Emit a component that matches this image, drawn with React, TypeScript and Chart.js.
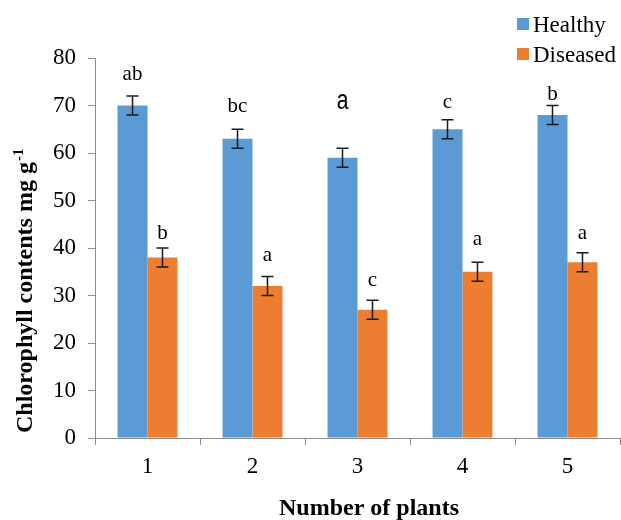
import React, { useEffect, useRef } from "react";
import { Chart, registerables } from "chart.js";

Chart.register(...registerables);

const categories = ["1", "2", "3", "4", "5"];
const healthy = [70, 63, 59, 65, 68];
const diseased = [38, 32, 27, 35, 37];
const healthyErr = [2, 2, 2, 2, 2];
const diseasedErr = [2, 2, 2, 2, 2];
const healthyLetters = ["ab", "bc", "a", "c", "b"];
const diseasedLetters = ["b", "a", "c", "a", "a"];
const healthyLetterLevel = [75.3, 68.6, 69.3, 69.5, 71.2];
const diseasedLetterLevel = [41.9, 37.3, 31.9, 40.6, 41.9];
const healthyLetterSans = [false, false, true, false, false];
const diseasedLetterSans = [false, false, false, false, false];
const yMin = 0;
const yMax = 80;
const yStep = 10;

const BLUE = "#5B9BD5";
const ORANGE = "#ED7D31";
const AXIS = "#8c8c8c";
const SERIF = "'Liberation Serif', 'Times New Roman', serif";
const SANS = "'Liberation Sans', Arial, sans-serif";

const errs = [healthyErr, diseasedErr];
const letters = [healthyLetters, diseasedLetters];
const levels = [healthyLetterLevel, diseasedLetterLevel];
const sansFlags = [healthyLetterSans, diseasedLetterSans];

const overlayPlugin = {
  id: "overlay",
  afterDatasetsDraw(chart: any) {
    const ctx = chart.ctx;
    const yScale = chart.scales.y;
    chart.data.datasets.forEach((ds: any, di: number) => {
      const meta = chart.getDatasetMeta(di);
      meta.data.forEach((el: any, i: number) => {
        const v = ds.data[i];
        const e = errs[di][i];
        const x = el.x;
        const yTop = yScale.getPixelForValue(v + e);
        const yBot = yScale.getPixelForValue(v - e);
        ctx.save();
        ctx.strokeStyle = "#1a1a1a";
        ctx.lineWidth = 1.5;
        ctx.beginPath();
        ctx.moveTo(x, yTop);
        ctx.lineTo(x, yBot);
        ctx.moveTo(x - 6, yTop);
        ctx.lineTo(x + 6, yTop);
        ctx.moveTo(x - 6, yBot);
        ctx.lineTo(x + 6, yBot);
        ctx.stroke();
        // letters
        const ly = yScale.getPixelForValue(levels[di][i]);
        ctx.fillStyle = "#000";
        ctx.textBaseline = "alphabetic";
        ctx.textAlign = "center";
        if (sansFlags[di][i]) {
          ctx.translate(x, ly);
          ctx.scale(0.78, 1);
          ctx.font = `27px ${SANS}`;
          ctx.fillText(letters[di][i], 0, 0);
        } else {
          ctx.font = `21px ${SERIF}`;
          ctx.fillText(letters[di][i], x, ly);
        }
        ctx.restore();
      });
    });
  },
  afterDraw(chart: any) {
    const ctx = chart.ctx;
    ctx.save();
    // legend
    const items = chart.data.datasets.map((d: any) => ({ label: d.label, color: d.backgroundColor }));
    items.forEach((it: any, i: number) => {
      const top = 18 + i * 30;
      ctx.fillStyle = it.color;
      ctx.fillRect(517, top, 12, 12);
      ctx.fillStyle = "#000";
      ctx.font = `23px ${SERIF}`;
      ctx.textAlign = "left";
      ctx.textBaseline = "alphabetic";
      ctx.fillText(it.label, 533, top + 14);
    });
    // x title
    ctx.font = `bold 24px ${SERIF}`;
    ctx.textAlign = "center";
    ctx.fillText("Number of plants", 369, 515);
    // y title
    ctx.translate(32, 433);
    ctx.rotate(-Math.PI / 2);
    ctx.textAlign = "left";
    ctx.font = `bold 24px ${SERIF}`;
    const main = "Chlorophyll contents mg g";
    ctx.fillText(main, 0, 0);
    const w = ctx.measureText(main).width;
    ctx.font = `bold 15px ${SERIF}`;
    ctx.fillText("-1", w + 1, -9);
    ctx.restore();
  },
};

export default function App() {
  const ref = useRef<HTMLCanvasElement | null>(null);
  useEffect(() => {
    document.body.style.margin = "0";
    const canvas = ref.current;
    if (!canvas) return;
    const chart = new Chart(canvas, {
      type: "bar",
      data: {
        labels: categories,
        datasets: [
          {
            label: "Healthy",
            data: healthy,
            backgroundColor: BLUE,
            categoryPercentage: 0.571,
            barPercentage: 1.0,
          },
          {
            label: "Diseased",
            data: diseased,
            backgroundColor: ORANGE,
            categoryPercentage: 0.571,
            barPercentage: 1.0,
          },
        ],
      },
      options: {
        responsive: false,
        animation: false,
        devicePixelRatio: 1,
        layout: { padding: { top: 58, right: 1, left: 0, bottom: 0 } },
        plugins: { legend: { display: false }, tooltip: { enabled: false } },
        scales: {
          x: {
            afterFit: (s: any) => {
              s.height = 82;
            },
            grid: {
              display: true,
              drawOnChartArea: false,
              drawTicks: true,
              tickLength: 7,
              color: AXIS,
              offset: true,
            },
            border: { display: true, color: AXIS, width: 1 },
            ticks: { color: "#000", font: { family: SERIF, size: 23 }, padding: 8 },
          },
          y: {
            min: yMin,
            max: yMax,
            afterFit: (s: any) => {
              s.width = 95;
            },
            grid: {
              display: true,
              drawOnChartArea: false,
              drawTicks: true,
              tickLength: 7,
              color: AXIS,
            },
            border: { display: true, color: AXIS, width: 1 },
            ticks: {
              stepSize: yStep,
              color: "#000",
              font: { family: SERIF, size: 23 },
              padding: 12,
            },
          },
        },
      },
      plugins: [overlayPlugin],
    });
    return () => chart.destroy();
  }, []);
  return <canvas ref={ref} width={621} height={520} style={{ display: "block" }} />;
}
